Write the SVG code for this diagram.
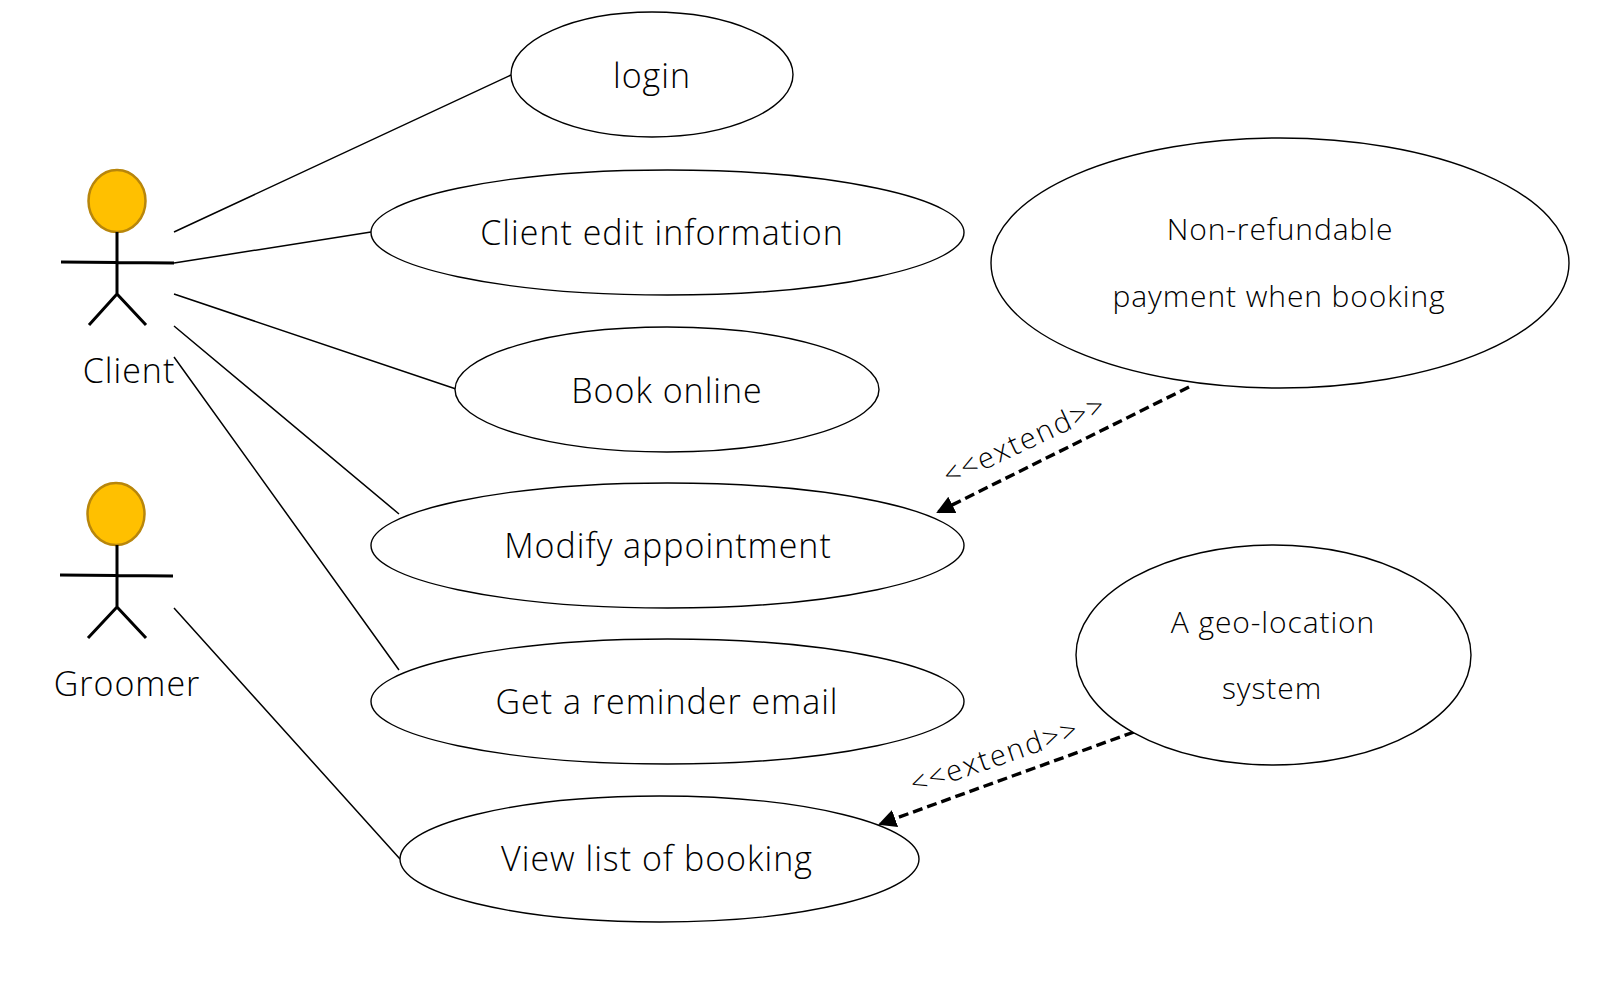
<svg xmlns="http://www.w3.org/2000/svg" width="1600" height="986" viewBox="0 0 1600 986">
<style>
.n{fill:#fff;stroke:#000;stroke-width:1.4}
.t{font-family:"Open Sans","Noto Sans",sans-serif;font-weight:300;font-size:34px;text-anchor:middle;fill:#000;letter-spacing:1px}
.s{font-size:30px;letter-spacing:.9px}
.e{font-size:29px;letter-spacing:2px}
.l{fill:none;stroke:#000;stroke-width:1.5}
.a{fill:none;stroke:#000;stroke-width:3.4;stroke-dasharray:10 5;marker-end:url(#h)}
.h{fill:#ffc000;stroke:#b8860b;stroke-width:2.5}
.b{fill:none;stroke:#000;stroke-width:3}
</style>
<defs><marker id="h" markerUnits="userSpaceOnUse" markerWidth="22" markerHeight="22" refX="16" refY="9" orient="auto"><path d="M0 0L18 9L0 18Z"/></marker></defs>
<rect width="1600" height="986" fill="#fff"/>
<g id="connectors">
<path class="l" d="M174 232L511 75M174 263L371 232M174 294L456 389M174 326L399 514M174 357L399 670M174 608L400 859"/>
<path class="a" d="M1189 387L938 512"/>
<path class="a" d="M1134 732L880 824"/>
</g>
<g id="client"><ellipse class="h" cx="117" cy="201" rx="28.500" ry="31"/><path class="b" d="M117 232V294M61 262L174 263M117 294L89 325M117 294L146 325"/><text class="t" x="129" y="383">Client</text></g>
<g id="groomer"><ellipse class="h" cx="116" cy="514" rx="28.500" ry="31"/><path class="b" d="M117 545V607M60 575L173 576M117 607L88 638M117 607L146 638"/><text class="t" x="127" y="696">Groomer</text></g>
<g id="login"><ellipse class="n" cx="652" cy="74.500" rx="141" ry="62.500"/><text class="t" x="652" y="88">login</text></g>
<g id="edit"><ellipse class="n" cx="667.500" cy="232.500" rx="296.500" ry="62.500"/><text class="t" x="662" y="245">Client edit information</text></g>
<g id="book"><ellipse class="n" cx="667" cy="389.500" rx="212" ry="62.500"/><text class="t" x="667" y="403">Book online</text></g>
<g id="modify"><ellipse class="n" cx="667.500" cy="545.500" rx="296.500" ry="62.500"/><text class="t" x="668" y="558">Modify appointment</text></g>
<g id="remind"><ellipse class="n" cx="667.500" cy="701.500" rx="296.500" ry="62.500"/><text class="t" x="667" y="714">Get a reminder email</text></g>
<g id="view"><ellipse class="n" cx="659.500" cy="859" rx="259.500" ry="63"/><text class="t" x="657" y="871">View list of booking</text></g>
<g id="nonref"><ellipse class="n" cx="1280" cy="263" rx="289" ry="125"/><text class="t s" x="1280" y="240">Non-refundable</text><text class="t s" x="1279" y="307">payment when booking</text></g>
<g id="geo"><ellipse class="n" cx="1273.500" cy="655" rx="197.500" ry="110"/><text class="t s" x="1273" y="633">A geo-location</text><text class="t s" x="1272" y="699">system</text></g>
<text class="t e" transform="translate(1029 449) rotate(-25)">&lt;&lt;extend&gt;&gt;</text>
<text class="t e" transform="translate(998 766) rotate(-19)">&lt;&lt;extend&gt;&gt;</text>
</svg>
